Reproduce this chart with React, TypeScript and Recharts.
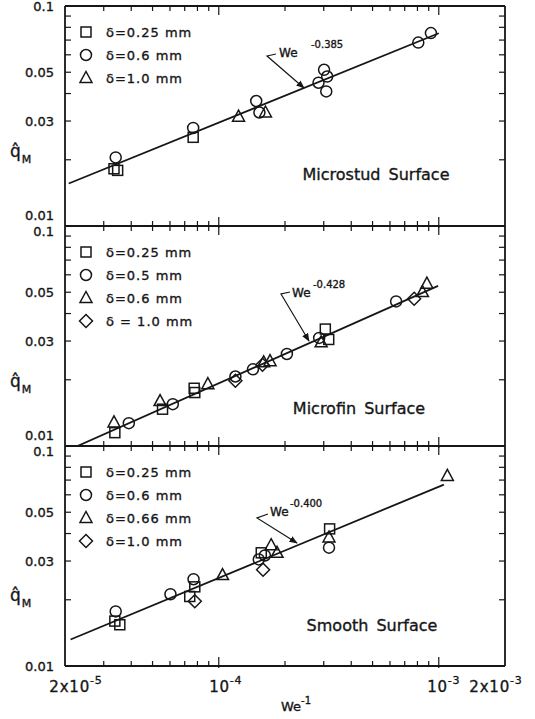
import React from 'react';
import { ComposedChart, Line, Scatter, XAxis, YAxis, Legend } from 'recharts';

type Pt = { x: number; y: number };

// Microstud surface
const studSq: Pt[] = [
  { x: 3.34e-5, y: 0.0182 }, { x: 3.47e-5, y: 0.0179 }, { x: 7.65e-5, y: 0.0253 },
];
const studCi: Pt[] = [
  { x: 3.4e-5, y: 0.0205 }, { x: 7.65e-5, y: 0.0279 }, { x: 1.48e-4, y: 0.037 },
  { x: 1.53e-4, y: 0.0328 }, { x: 2.84e-4, y: 0.0448 }, { x: 3.01e-4, y: 0.0513 },
  { x: 3.11e-4, y: 0.0478 }, { x: 3.08e-4, y: 0.0409 }, { x: 8.07e-4, y: 0.0682 },
  { x: 9.21e-4, y: 0.0753 },
];
const studTr: Pt[] = [{ x: 1.23e-4, y: 0.0314 }, { x: 1.63e-4, y: 0.0328 }];
const studFit: Pt[] = [{ x: 2.08e-5, y: 0.0156 }, { x: 1.0e-3, y: 0.0752 }];

// Microfin surface
const finSq: Pt[] = [
  { x: 3.37e-5, y: 0.0115 }, { x: 5.55e-5, y: 0.0147 }, { x: 7.73e-5, y: 0.0183 },
  { x: 7.78e-5, y: 0.0175 }, { x: 3.05e-4, y: 0.034 }, { x: 3.16e-4, y: 0.0305 },
];
const finCi: Pt[] = [
  { x: 3.9e-5, y: 0.0127 }, { x: 6.18e-5, y: 0.0155 }, { x: 1.19e-4, y: 0.0207 },
  { x: 1.43e-4, y: 0.0223 }, { x: 2.04e-4, y: 0.0262 }, { x: 2.86e-4, y: 0.031 },
  { x: 6.4e-4, y: 0.0454 },
];
const finTr: Pt[] = [
  { x: 3.34e-5, y: 0.0128 }, { x: 5.41e-5, y: 0.016 }, { x: 8.92e-5, y: 0.0191 },
  { x: 1.6e-4, y: 0.024 }, { x: 1.71e-4, y: 0.0243 }, { x: 2.92e-4, y: 0.0296 },
  { x: 8.43e-4, y: 0.0501 }, { x: 8.83e-4, y: 0.0547 },
];
const finDi: Pt[] = [
  { x: 1.19e-4, y: 0.0198 }, { x: 1.58e-4, y: 0.0234 }, { x: 7.73e-4, y: 0.0467 },
];
const finFit: Pt[] = [{ x: 2.28e-5, y: 0.01 }, { x: 9.93e-4, y: 0.0534 }];

// Smooth surface
const smSq: Pt[] = [
  { x: 3.37e-5, y: 0.016 }, { x: 3.55e-5, y: 0.0154 }, { x: 7.38e-5, y: 0.0207 },
  { x: 7.78e-5, y: 0.0229 }, { x: 1.56e-4, y: 0.0327 }, { x: 3.19e-4, y: 0.042 },
];
const smCi: Pt[] = [
  { x: 3.4e-5, y: 0.0177 }, { x: 6.03e-5, y: 0.0212 }, { x: 7.68e-5, y: 0.0248 },
  { x: 1.52e-4, y: 0.0305 }, { x: 1.62e-4, y: 0.0318 }, { x: 3.17e-4, y: 0.0345 },
];
const smTr: Pt[] = [
  { x: 1.04e-4, y: 0.0259 }, { x: 1.73e-4, y: 0.0354 }, { x: 1.84e-4, y: 0.0327 },
  { x: 3.17e-4, y: 0.0384 }, { x: 1.094e-3, y: 0.0731 },
];
const smDi: Pt[] = [{ x: 7.78e-5, y: 0.0197 }, { x: 1.59e-4, y: 0.0274 }];
const smFit: Pt[] = [{ x: 2.12e-5, y: 0.0132 }, { x: 1.055e-3, y: 0.0668 }];

const xTicks = [
  2e-5, 3e-5, 4e-5, 5e-5, 6e-5, 7e-5, 8e-5, 9e-5, 1e-4,
  2e-4, 3e-4, 4e-4, 5e-4, 6e-4, 7e-4, 8e-4, 9e-4, 1e-3, 2e-3,
];
const xLabelValues = [2e-5, 1e-4, 1e-3, 2e-3];
const xLabelBase = ['2x10', '10', '10', '2x10'];
const xLabelExp = ['-5', '-4', '-3', '-3'];

const yTicks = [0.01, 0.02, 0.03, 0.04, 0.05, 0.06, 0.07, 0.08, 0.09, 0.1];
const yLabelValues = [0.01, 0.03, 0.05, 0.1];
const yLabelText = ['0.01', '0.03', '0.05', '0.1'];

const INK = '#161616';
const FONT = '"DejaVu Sans", sans-serif';
const PLOT_L = 65;
const PLOT_R = 505;
const H = 220;
const PAD = 20;
const ROW = 23;
// a faint outline gives the lettering a little more weight
const HEAVY = { stroke: INK, strokeWidth: 0.35 };

const same = (a: number, b: number) => Math.abs(Math.log10(a) - Math.log10(b)) < 1e-6;

const panels = [
  {
    top: 6, title: 'Microstud Surface', titleX: 376, titleY: 174, qY: 151,
    topDy: 5, botDy: -6, fit: studFit, exp: '-0.385',
    we: { x: 279, y: 57, sx: 311, sy: 48 },
    arrow: [[276, 54], [267, 56], [304, 88]],
    series: [
      { name: 'δ=0.25 mm', kind: 'square', data: studSq },
      { name: 'δ=0.6 mm', kind: 'circle', data: studCi },
      { name: 'δ=1.0 mm', kind: 'triangle', data: studTr },
    ],
  },
  {
    top: 226, title: 'Microfin Surface', titleX: 359, titleY: 188, qY: 161,
    topDy: 10, botDy: -6, fit: finFit, exp: '-0.428',
    we: { x: 292, y: 297, sx: 313, sy: 288 },
    arrow: [[290, 292], [281, 294], [309, 341]],
    series: [
      { name: 'δ=0.25 mm', kind: 'square', data: finSq },
      { name: 'δ=0.5 mm', kind: 'circle', data: finCi },
      { name: 'δ=0.6 mm', kind: 'triangle', data: finTr },
      { name: 'δ = 1.0 mm', kind: 'diamond', data: finDi },
    ],
  },
  {
    top: 446, title: 'Smooth Surface', titleX: 372, titleY: 185, qY: 155,
    topDy: 10, botDy: 5, fit: smFit, exp: '-0.400',
    we: { x: 270, y: 516, sx: 290, sy: 507 },
    arrow: [[268, 514], [257, 518], [297, 543]],
    series: [
      { name: 'δ=0.25 mm', kind: 'square', data: smSq },
      { name: 'δ=0.6 mm', kind: 'circle', data: smCi },
      { name: 'δ=0.66 mm', kind: 'triangle', data: smTr },
      { name: 'δ=1.0 mm', kind: 'diamond', data: smDi },
    ],
  },
];

function Mark({ kind, cx, cy }: { kind: string; cx: number; cy: number }) {
  const s = { fill: 'none', stroke: INK, strokeWidth: 1.5 };
  if (kind === 'square') return <rect x={cx - 5} y={cy - 5} width={10} height={10} {...s} />;
  if (kind === 'triangle')
    return <polygon points={`${cx},${cy - 6.5} ${cx + 6},${cy + 4.5} ${cx - 6},${cy + 4.5}`} {...s} />;
  if (kind === 'diamond')
    return <polygon points={`${cx},${cy - 6.5} ${cx + 6.5},${cy} ${cx},${cy + 6.5} ${cx - 6.5},${cy}`} {...s} />;
  return <circle cx={cx} cy={cy} r={5.5} {...s} />;
}

// legend entries keep the order the series are declared in
const legendFor = (order: string[]) => (props: any) => {
  const items = (props.payload || [])
    .filter((e: any) => e.type !== 'none')
    .slice()
    .sort((a: any, b: any) => order.indexOf(a.value) - order.indexOf(b.value));
  return (
    <svg width={190} height={items.length * ROW + 6} style={{ display: 'block', overflow: 'visible' }}>
      {items.map((e: any, i: number) => (
        <g key={i}>
          <Mark kind={e.type} cx={16} cy={11 + i * ROW} />
          <text x={36} y={16 + i * ROW} fontFamily={FONT} fontSize={13} letterSpacing={1} fill={INK} {...HEAVY}>
            {e.value}
          </text>
        </g>
      ))}
    </svg>
  );
};

function Panel({ p, last }: { p: (typeof panels)[number]; last: boolean }) {
  const bottomPad = last ? 60 : PAD;
  const height = PAD + H + bottomPad;
  const axisBottom = PAD + H;

  const bottomTick = (t: any) => {
    const v = t.payload.value;
    const x = t.x;
    const edge = same(v, 2e-5) || same(v, 2e-3);
    const major = same(v, 1e-4) || same(v, 1e-3);
    const li = xLabelValues.findIndex((w) => same(w, v));
    const dx = [11, 7, 5, -9][li];
    return (
      <g>
        {!edge && <line x1={x} x2={x} y1={axisBottom + (major ? 2 : 0)} y2={axisBottom - (major ? 9 : 5)} stroke={INK} strokeWidth={1.2} />}
        {last && li >= 0 && (
          <text x={x + dx} y={axisBottom + 26} textAnchor="middle" fontFamily={FONT} fontSize={15} letterSpacing={0.8} fill={INK} {...HEAVY}>
            {xLabelBase[li]}
            <tspan dy={-8} fontSize={11}>{xLabelExp[li]}</tspan>
          </text>
        )}
      </g>
    );
  };

  const topTick = (t: any) => {
    const v = t.payload.value;
    if (same(v, 2e-5) || same(v, 2e-3)) return <g />;
    const major = same(v, 1e-4) || same(v, 1e-3);
    return <line x1={t.x} x2={t.x} y1={PAD} y2={PAD + (major ? 9 : 5)} stroke={INK} strokeWidth={1.2} />;
  };

  const leftTick = (t: any) => {
    const v = t.payload.value;
    const y = t.y;
    const li = yLabelValues.findIndex((w) => same(w, v));
    const edge = same(v, 0.01) || same(v, 0.1);
    const dy = same(v, 0.1) ? p.topDy : same(v, 0.01) ? p.botDy : 5;
    return (
      <g>
        {!edge && <line x1={PLOT_L} x2={PLOT_L + 6} y1={y} y2={y} stroke={INK} strokeWidth={1.2} />}
        {li >= 0 && (
          <text x={PLOT_L - 11} y={y + dy} textAnchor="end" fontFamily={FONT} fontSize={13} fill={INK} {...HEAVY}>
            {yLabelText[li]}
          </text>
        )}
      </g>
    );
  };

  const rightTick = (t: any) => {
    const v = t.payload.value;
    if (same(v, 0.01) || same(v, 0.1)) return <g />;
    return <line x1={PLOT_R - 6} x2={PLOT_R} y1={t.y} y2={t.y} stroke={INK} strokeWidth={1.2} />;
  };

  const axisLine = { stroke: INK, strokeWidth: 1.8 };

  return (
    <div style={{ position: 'absolute', left: 0, top: p.top - PAD }}>
      <ComposedChart width={535} height={height} margin={{ top: PAD - 1, bottom: bottomPad - 1, left: 15, right: 20 }}>
        <XAxis xAxisId="b" type="number" dataKey="x" scale="log" domain={[2e-5, 2e-3]} allowDataOverflow
          ticks={xTicks} interval={0} tick={bottomTick} tickLine={false} tickSize={0} height={1} axisLine={axisLine} />
        <XAxis xAxisId="t" orientation="top" type="number" dataKey="x" scale="log" domain={[2e-5, 2e-3]} allowDataOverflow
          ticks={xTicks} interval={0} tick={topTick} tickLine={false} tickSize={0} height={1} axisLine={axisLine} />
        <YAxis yAxisId="l" type="number" dataKey="y" scale="log" domain={[0.01, 0.1]} allowDataOverflow
          ticks={yTicks} interval={0} tick={leftTick} tickLine={false} tickSize={0} width={50} axisLine={axisLine} />
        <YAxis yAxisId="r" orientation="right" type="number" dataKey="y" scale="log" domain={[0.01, 0.1]} allowDataOverflow
          ticks={yTicks} interval={0} tick={rightTick} tickLine={false} tickSize={0} width={10} axisLine={axisLine} />
        <Legend layout="vertical" align="center" verticalAlign="middle" content={legendFor(p.series.map((s) => s.name))}
          wrapperStyle={{ left: 70, top: PAD + 26 - 11, width: 190, height: 100 }} />
        <Line xAxisId="b" yAxisId="l" data={p.fit} dataKey="y" type="linear" dot={false}
          stroke={INK} strokeWidth={1.8} legendType="none" isAnimationActive={false} />
        {p.series.map((s) => (
          <Scatter key={s.name} xAxisId="b" yAxisId="l" name={s.name} data={s.data} legendType={s.kind as any}
            shape={(sp: any) => <Mark kind={s.kind} cx={sp.cx} cy={sp.cy} />} isAnimationActive={false} />
        ))}
      </ComposedChart>
    </div>
  );
}

function Notes() {
  return (
    <svg width={535} height={719} style={{ position: 'absolute', left: 0, top: 0, pointerEvents: 'none' }}>
      <defs>
        <marker id="tip" viewBox="0 0 10 10" refX="9" refY="5" markerWidth="7" markerHeight="7" orient="auto">
          <path d="M0,1 L10,5 L0,9 z" fill={INK} />
        </marker>
      </defs>
      {panels.map((p, i) => (
        <g key={i} fontFamily={FONT} fill={INK}>
          <text x={10} y={p.top + p.qY} fontSize={17} {...HEAVY}>
            q̂<tspan dx={1} dy={6} fontSize={11}>M</tspan>
          </text>
          <text x={p.titleX} y={p.top + p.titleY} textAnchor="middle" fontSize={16} wordSpacing={3} {...HEAVY}>{p.title}</text>
          <text x={p.we.x} y={p.we.y} fontSize={12} {...HEAVY}>We</text>
          <text x={p.we.sx} y={p.we.sy} fontSize={10} {...HEAVY}>{p.exp}</text>
          <polyline points={p.arrow.map((a) => a.join(',')).join(' ')} fill="none" stroke={INK}
            strokeWidth={1.2} markerEnd="url(#tip)" />
        </g>
      ))}
      <text x={281} y={711} fontFamily={FONT} fontSize={13} fill={INK} {...HEAVY}>
        We<tspan dy={-7} fontSize={10}>-1</tspan>
      </text>
    </svg>
  );
}

export default function App() {
  return (
    <div style={{ position: 'absolute', left: 0, top: 0, width: 535, height: 719, background: '#fff', overflow: 'hidden' }}>
      {panels.map((p, i) => (
        <Panel key={i} p={p} last={i === panels.length - 1} />
      ))}
      <Notes />
    </div>
  );
}
